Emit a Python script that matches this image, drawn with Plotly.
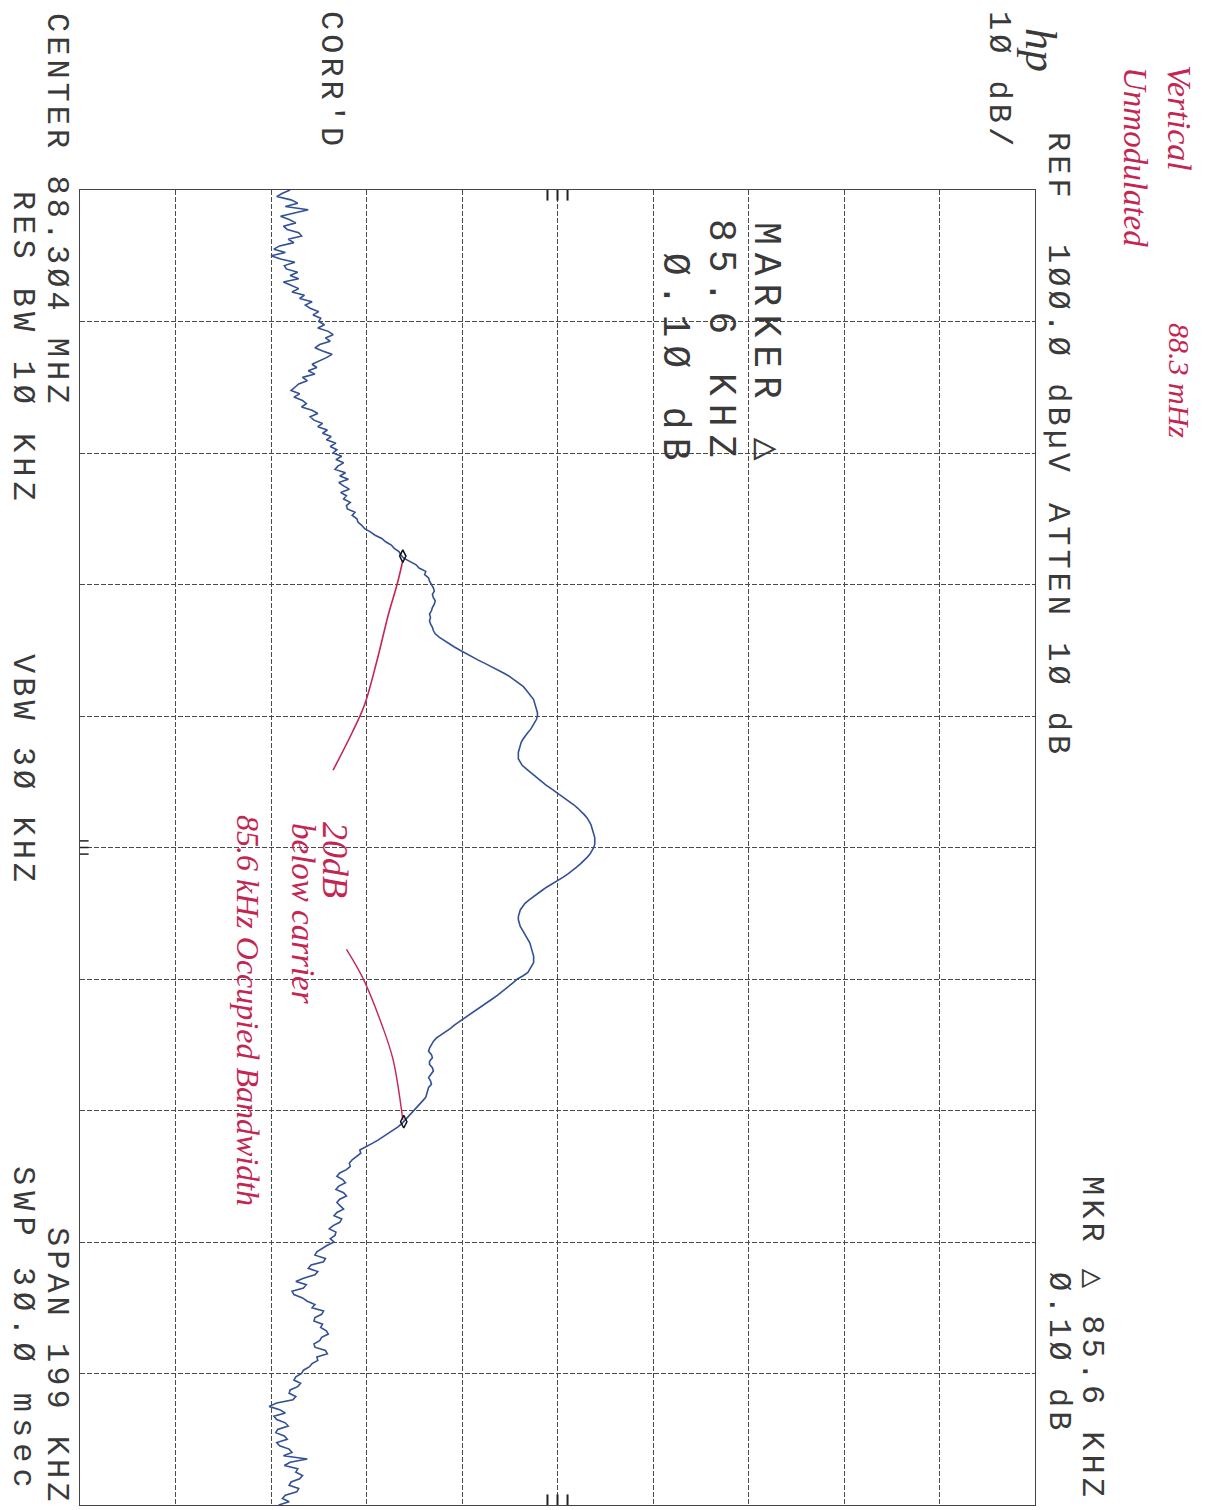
import numpy as np
import plotly.graph_objects as go

# ---------------- data ----------------
center_mhz = 88.304
span_khz = 199.0
ref_level = 100.0
db_per_div = 10.0

# trace amplitude (dBuV), 401 sweep points across the span (top -> bottom of page)
trace_db = [
    22.0, 21.2, 20.6, 22.1, 22.8, 21.5, 23.9, 22.4, 21.0, 21.9,
    22.6, 21.3, 21.7, 22.9, 23.2, 21.8, 22.4, 20.9, 20.3, 21.5,
    20.0, 21.0, 22.5, 21.4, 21.6, 22.8, 22.0, 22.9, 21.3, 22.1,
    22.9, 22.2, 23.5, 23.0, 24.3, 23.6, 24.1, 25.0, 24.4, 25.2,
    25.0,
    25.6, 24.9, 26.0, 26.5, 25.7, 26.2, 25.1, 24.6, 25.4, 26.4,
    25.8, 25.0, 24.3, 24.8, 23.9, 24.6, 23.3, 23.8, 22.9, 22.5,
    22.1, 23.0, 22.4, 23.3, 23.7, 23.2, 24.3, 24.9, 24.1, 24.5,
    25.4, 24.9, 25.9, 25.4, 26.3, 25.8, 26.8, 26.2, 26.9, 26.5,
    27.4, 26.8, 27.6, 27.0, 26.7, 27.8, 27.2, 28.1, 27.1, 27.6,
    28.2, 27.3, 27.9, 27.6, 28.3, 27.9, 28.0, 28.8, 28.5, 29.0,
    29.1, 29.5, 29.8, 30.4, 30.9, 31.6, 32.0, 32.6, 32.9, 33.4,
    33.6, 33.9, 34.6, 35.2, 35.5, 36.2, 36.1, 36.5, 36.6, 36.8,
    37.0, 37.1, 36.9, 37.0, 37.2, 37.1, 36.9, 36.8, 36.6, 36.7,
    36.6, 36.7, 36.9, 37.0, 37.2, 37.6, 38.1, 38.6, 39.2, 39.8,
    40.4, 41.1, 41.7, 42.4, 43.1, 43.8, 44.4, 45.0, 45.5, 46.0,
    46.4, 46.7, 47.0, 47.3, 47.5, 47.6, 47.7, 47.8, 47.9, 47.9,
    47.8, 47.6, 47.4, 47.2, 46.9, 46.6, 46.4, 46.2, 46.1, 46.0,
    45.9, 45.9, 45.9, 46.1, 46.3, 46.7, 47.1, 47.6, 47.9, 48.3,
    48.8, 49.3, 49.8, 50.3, 50.8, 51.2, 51.7, 52.1, 52.5, 52.8,
    53.1, 53.3, 53.5, 53.6, 53.7, 53.8, 53.9, 53.9, 53.9, 53.8,
    53.6, 53.4, 53.1, 52.8, 52.4, 52.0, 51.6, 51.1, 50.6, 50.0,
    49.4, 48.9, 48.4, 47.9, 47.4, 47.0, 46.6, 46.3, 46.1, 46.0,
    45.9, 45.9, 46.0, 46.1, 46.3, 46.5, 46.7, 46.9, 47.1, 47.2,
    47.3, 47.4, 47.5, 47.5, 47.5, 47.3, 47.1, 46.9, 46.4, 45.8,
    45.4, 45.0, 44.6, 44.1, 43.7, 43.2, 42.7, 42.2, 41.6, 41.1,
    40.6, 40.1, 39.7, 39.2, 38.8, 38.3, 37.8, 37.3, 37.0, 36.8,
    36.6, 36.5, 36.8, 36.9, 36.6, 36.6, 36.9, 37.0, 36.7, 36.5,
    36.7, 36.8, 36.5, 36.4, 36.3, 36.2, 35.9, 35.6, 35.3, 35.0,
    34.7, 34.3, 34.0, 33.7, 33.3, 32.8, 32.3, 31.8, 31.2, 30.6,
    30.0, 29.3, 29.4, 28.9, 28.5, 28.2, 28.3, 27.9, 27.2, 26.9,
    27.5, 27.8, 27.1, 26.8, 27.6, 27.9, 27.2, 26.9, 27.3, 27.6,
    26.9, 26.6, 27.4, 27.2, 26.5, 26.1, 26.8, 26.7, 26.2, 26.6,
    25.9, 25.4, 24.8, 24.6, 25.7, 25.5, 24.2, 23.9, 24.9, 24.6,
    23.4, 22.6, 23.7, 23.4, 22.2, 22.4, 23.3, 23.8, 24.6, 24.3,
    25.5, 25.3, 24.6, 24.5, 25.4, 25.2, 25.8, 26.0, 25.3, 25.1,
    24.5, 24.6, 25.7, 25.9, 24.8, 24.9, 24.3, 24.0, 23.4, 23.2,
    22.6, 22.4, 23.1, 22.8, 22.0, 21.9, 22.6, 22.3, 20.6, 19.8,
    20.9, 21.5, 20.3, 20.6, 21.5, 21.8, 20.7, 20.5, 21.4, 21.7,
    20.6, 20.9, 21.9, 22.2, 21.3, 23.8, 22.0, 21.4, 22.8, 22.6,
    23.3, 23.0, 22.1, 21.9, 22.9, 22.7, 21.5, 21.2, 21.9, 20.8,
]
trace_khz = np.linspace(-span_khz / 2, span_khz / 2, len(trace_db))

# delta markers
marker_khz = [-44.1, 41.5]
marker_db = [33.8, 33.9]

# hand-drawn red pointer strokes
pen1_khz = [-43.4, -39.8, -35.3, -28.3, -21.6, -17.4, -11.7]
pen1_db = [33.8, 33.2, 32.3, 31.1, 29.8, 28.5, 26.5]
pen2_khz = [15.4, 19.7, 27.2, 32.2, 41.2]
pen2_db = [27.9, 29.6, 31.7, 32.8, 33.8]

# ---------------- page geometry ----------------
W, H = 1221, 1510
L, R, T, B = 80, 1035, 190, 1505


def P(px, py):
    return (px - L) / (R - L), (B - py) / (B - T)


INK = "#3a3a3a"
PEN = "rgb(196,38,82)"
MONO = "Liberation Mono, DejaVu Sans Mono, monospace"
HAND = "Liberation Serif, DejaVu Serif, serif"

fig = go.Figure()

fig.add_trace(go.Scatter(
    x=trace_db, y=trace_khz, mode="lines",
    line=dict(color="rgb(50,80,148)", width=1.6),
    hoverinfo="skip", showlegend=False,
))
fig.add_trace(go.Scatter(
    x=pen1_db, y=pen1_khz, mode="lines",
    line=dict(color=PEN, width=1.6, shape="spline"),
    showlegend=False, hoverinfo="skip",
))
fig.add_trace(go.Scatter(
    x=pen2_db, y=pen2_khz, mode="lines",
    line=dict(color=PEN, width=1.4, shape="spline"),
    showlegend=False, hoverinfo="skip",
))
fig.add_trace(go.Scatter(
    x=marker_db, y=marker_khz, mode="markers",
    marker=dict(symbol="diamond-tall-open", size=9, color="#111",
                line=dict(width=1.5, color="#111")),
    showlegend=False, hoverinfo="skip",
))

# ---------------- texts ----------------
ann = []


def txt(s, px, py, size=32, font=MONO, color=INK, italic=False, spacing=0):
    xp, yp = P(px, py)
    body = ("<i>%s</i>" % s) if italic else s
    if spacing:
        body = '<span style="letter-spacing:%dpx">%s</span>' % (spacing, body)
    ann.append(dict(
        text=body,
        x=xp, y=yp, xref="paper", yref="paper",
        xanchor="center", yanchor="middle", showarrow=False,
        textangle=90, font=dict(family=font, size=size, color=color),
    ))


txt("hp", 1040, 50, size=44, font=HAND, italic=True)
txt("1Ø dB/", 998, 80, spacing=4)
txt("REF", 1058, 167, spacing=4)
txt("1ØØ.Ø dBµV", 1058, 360, spacing=4)
txt("ATTEN 1Ø dB", 1058, 630, spacing=4)
txt("MARKER △", 766, 345, size=38, spacing=8)
txt("85.6 KHZ", 720, 342, size=38, spacing=8)
txt(" Ø.1Ø dB", 675, 345, size=38, spacing=8)
txt("CORR'D", 330, 80, spacing=4)
txt("CENTER 88.3Ø4 MHZ", 57, 210, spacing=4)
txt("RES BW 1Ø KHZ", 23, 348, spacing=5)
txt("VBW 3Ø KHZ", 23, 770, spacing=4)
txt("SWP 3Ø.Ø msec", 23, 1330, spacing=6)
txt("SPAN 199 KHZ", 57, 1366, spacing=4)
txt("MKR △ 85.6 KHZ", 1092, 1338, spacing=4)
txt("Ø.1Ø dB", 1059, 1353, spacing=4)

# handwritten notes
txt("Vertical", 1180, 118, size=34, font=HAND, color=PEN, italic=True)
txt("88.3 mHz", 1180, 380, size=30, font=HAND, color=PEN, italic=True)
txt("Unmodulated", 1135, 157, size=33, font=HAND, color=PEN, italic=True)
txt("20dB", 335, 860, size=36, font=HAND, color=PEN, italic=True)
txt("below carrier", 303, 913, size=33, font=HAND, color=PEN, italic=True)
txt("85.6 kHz Occupied Bandwidth", 248, 1010, size=32, font=HAND, color=PEN, italic=True)

# centre marks on the graticule edges
shapes = []
for a in (ref_level / 2 - 1.05, ref_level / 2, ref_level / 2 + 1.05):
    shapes.append(dict(type="line", xref="x", yref="y", x0=a, x1=a,
                       y0=-span_khz / 2, y1=-span_khz / 2 + 1.6,
                       line=dict(color="#222", width=2)))
    shapes.append(dict(type="line", xref="x", yref="y", x0=a, x1=a,
                       y0=span_khz / 2, y1=span_khz / 2 - 1.6,
                       line=dict(color="#222", width=2)))
for f in (-1.0, 0.0, 1.0):
    shapes.append(dict(type="line", xref="x", yref="y", x0=0, x1=0.9,
                       y0=f, y1=f, line=dict(color="#222", width=1.5)))

axis_common = dict(
    showgrid=True, gridcolor="#4a4a4a", gridwidth=1, griddash="5px,2px",
    zeroline=False, showticklabels=False, ticks="",
    showline=True, mirror=True, linecolor="#444", linewidth=1,
    fixedrange=True,
)

fig.update_layout(
    width=W, height=H,
    margin=dict(l=L, r=W - R, t=T, b=H - B, pad=0),
    paper_bgcolor="white", plot_bgcolor="white",
    xaxis=dict(range=[ref_level - 10 * db_per_div, ref_level],
               tick0=0, dtick=db_per_div, **axis_common),
    yaxis=dict(range=[span_khz / 2, -span_khz / 2],
               tick0=-span_khz / 2, dtick=span_khz / 10, **axis_common),
    annotations=ann,
    shapes=shapes,
    showlegend=False,
)

fig.write_html("out.html")
